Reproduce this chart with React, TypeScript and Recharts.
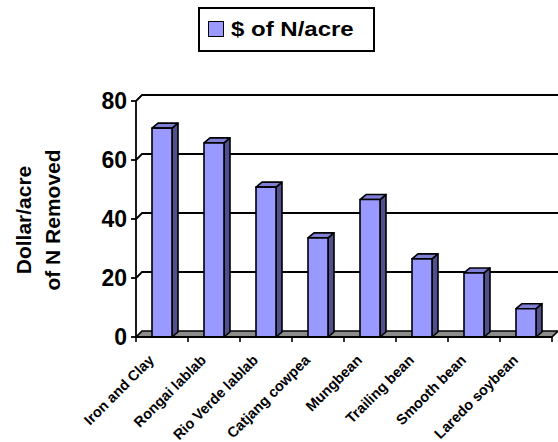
import React from 'react';
import { BarChart, Bar, XAxis, YAxis, CartesianGrid } from 'recharts';

const categories = [
  'Iron and Clay',
  'Rongai lablab',
  'Rio Verde lablab',
  'Catjang cowpea',
  'Mungbean',
  'Trailing bean',
  'Smooth bean',
  'Laredo soybean',
];
const dollarsPerAcre = [70.8, 65.8, 50.8, 33.6, 46.6, 26.5, 21.7, 9.6];
const yTicks = [0, 20, 40, 60, 80];
const seriesName = '$ of N/acre';
const yTitle = ['Dollar/acre', 'of N Removed'];

const data = categories.map((name, i) => ({ name, value: dollarsPerAcre[i] }));

const W = 558;
const H = 442;
const X_AXIS_H = 105;
const PLOT_BOTTOM = H - X_AXIS_H;
const FONT = 'Arial, "Liberation Sans", sans-serif';

// depth of the 3D walls and of the bars
const WALL_DX = 6;
const WALL_DY = 6;
const BAR_DX = 6;
const BAR_DY = 5;

const FRONT = '#9999FF';
const TOP = '#7F7FD6';
const SIDE = '#50508C';
const FLOOR = '#8C8C8C';

const Box3D = (props: any) => {
  const { x, y, width, height } = props;
  if (!width || height == null) return null;
  const r = x + width;
  const b = y + height;
  return (
    <g stroke="#000" strokeWidth={1.6} strokeLinejoin="round">
      <polygon
        points={`${r},${y} ${r + BAR_DX},${y - BAR_DY} ${r + BAR_DX},${b - BAR_DY} ${r},${b}`}
        fill={SIDE}
      />
      <polygon
        points={`${x},${y} ${x + BAR_DX},${y - BAR_DY} ${r + BAR_DX},${y - BAR_DY} ${r},${y}`}
        fill={TOP}
      />
      <rect x={x} y={y} width={width} height={height} fill={FRONT} />
    </g>
  );
};

// gridlines sit on the back wall, with a short slanted edge on the left;
// the zero line becomes the grey floor
const WallLine = (props: any) => {
  const { x1, x2, y1, index } = props;
  const yb = y1 - WALL_DY;
  if (Math.abs(y1 - PLOT_BOTTOM) < 1) {
    return (
      <polygon
        key={`floor-${index}`}
        points={`${x1},${y1} ${x2},${y1} ${x2 + WALL_DX},${yb} ${x1 + WALL_DX},${yb}`}
        fill={FLOOR}
        stroke="#000"
        strokeWidth={1.6}
      />
    );
  }
  return (
    <polyline
      key={`grid-${index}`}
      points={`${x1},${y1} ${x1 + WALL_DX},${yb} ${x2 + WALL_DX},${yb}`}
      fill="none"
      stroke="#000"
      strokeWidth={1.8}
    />
  );
};

const CategoryTick = (props: any) => {
  const { x, y, payload, index } = props;
  const half = payload && payload.offset ? payload.offset : 26;
  const ax = x - 7;
  const ay = y + 24;
  return (
    <g>
      <line x1={x - half} y1={y} x2={x - half} y2={y + 5} stroke="#000" strokeWidth={1.6} />
      {index === categories.length - 1 && (
        <line x1={x + half} y1={y} x2={x + half} y2={y + 5} stroke="#000" strokeWidth={1.6} />
      )}
      <text
        x={ax}
        y={ay}
        transform={`rotate(-45, ${ax}, ${ay})`}
        textAnchor="end"
        fontFamily={FONT}
        fontWeight="bold"
        fontSize={14.5}
        fill="#000"
      >
        {payload.value}
      </text>
    </g>
  );
};

const YTitle = (props: any) => {
  const vb = props.viewBox || { y: 101, height: 236 };
  const cy = vb.y + vb.height / 2 + 1;
  const lines = [31, 60];
  return (
    <g>
      {yTitle.map((t, i) => (
        <text
          key={t}
          x={lines[i]}
          y={cy}
          transform={`rotate(-90, ${lines[i]}, ${cy})`}
          textAnchor="middle"
          fontFamily={FONT}
          fontWeight="bold"
          fontSize={21}
          fill="#000"
        >
          {t}
        </text>
      ))}
    </g>
  );
};

const LegendBox = () => (
  <div
    style={{
      position: 'absolute',
      left: 198,
      top: 7,
      width: 173,
      height: 41,
      border: '2px solid #000',
      background: '#fff',
      fontFamily: FONT,
    }}
  >
    <div
      style={{
        position: 'absolute',
        left: 8,
        top: 12,
        width: 14,
        height: 14,
        background: FRONT,
        border: '1.5px solid #000',
      }}
    />
    <span
      style={{
        position: 'absolute',
        left: 31,
        top: 8,
        fontSize: 20,
        fontWeight: 'bold',
        lineHeight: '24px',
        whiteSpace: 'nowrap',
        transform: 'scaleX(1.2)',
        transformOrigin: 'left center',
      }}
    >
      {seriesName}
    </span>
  </div>
);

export default function App() {
  return (
    <div style={{ position: 'absolute', left: 0, top: 0, width: W, height: H, background: '#fff' }}>
      <BarChart
        width={W}
        height={H}
        data={data}
        margin={{ top: 101, right: 6, left: 0, bottom: 0 }}
        barSize={20}
      >
        <CartesianGrid vertical={false} horizontal={WallLine} />
        <XAxis
          dataKey="name"
          height={X_AXIS_H}
          interval={0}
          tickSize={0}
          tickMargin={0}
          tickLine={false}
          axisLine={{ stroke: '#000', strokeWidth: 1.8 }}
          tick={<CategoryTick />}
        />
        <YAxis
          width={136}
          domain={[0, 80]}
          ticks={yTicks}
          interval={0}
          tickSize={5}
          tickMargin={4}
          axisLine={{ stroke: '#000', strokeWidth: 1.8 }}
          tickLine={{ stroke: '#000', strokeWidth: 1.8 }}
          tick={{ fill: '#000', fontFamily: FONT, fontWeight: 'bold', fontSize: 23 }}
          label={<YTitle />}
        />
        <Bar dataKey="value" name={seriesName} shape={<Box3D />} isAnimationActive={false} />
      </BarChart>
      <LegendBox />
    </div>
  );
}
